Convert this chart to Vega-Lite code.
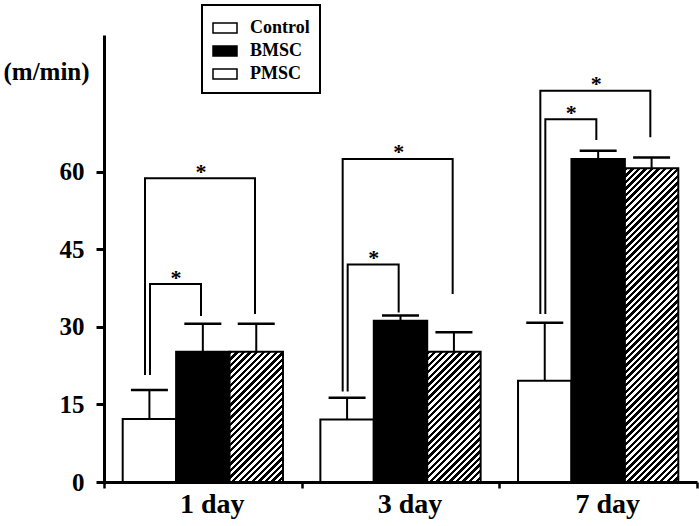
{
"$schema": "https://vega.github.io/schema/vega-lite/v6.json",
"width": 593, "height": 447,
"autosize": "none",
"padding": {"left": 104, "top": 35, "right": 2, "bottom": 44},
"background": "white",
"config": {
  "view": {"stroke": null},
  "font": "Liberation Serif",
  "axisY": {"domainColor": "black", "domainWidth": 3, "tickColor": "black", "tickWidth": 3, "tickSize": 8, "labelFont": "Liberation Serif", "labelFontSize": 25, "labelFontWeight": "bold", "labelColor": "black", "labelPadding": 12, "grid": false, "titleAngle": 0, "titleAlign": "left", "titleBaseline": "alphabetic", "titleX": -101, "titleY": 44, "titleFont": "Liberation Serif", "titleFontSize": 25, "titleFontWeight": "bold", "titleColor": "black"},
  "axisX": {"domainColor": "black", "domainWidth": 3, "tickColor": "black", "tickWidth": 2.5, "tickSize": 6, "tickBand": "extent", "labelFont": "Liberation Serif", "labelFontSize": 28, "labelFontWeight": "bold", "labelAngle": 0, "labelPadding": 2, "labelOffset": 9, "labelColor": "black", "grid": false}
},
"datasets": {
  "bars": [
    {"day": "1 day", "group": "Control", "mean": 12.2, "upper": 17.8},
    {"day": "1 day", "group": "BMSC", "mean": 25.2, "upper": 30.6},
    {"day": "1 day", "group": "PMSC", "mean": 25.2, "upper": 30.6},
    {"day": "3 day", "group": "Control", "mean": 12.1, "upper": 16.3},
    {"day": "3 day", "group": "BMSC", "mean": 31.2, "upper": 32.2},
    {"day": "3 day", "group": "PMSC", "mean": 25.2, "upper": 29.0},
    {"day": "7 day", "group": "Control", "mean": 19.6, "upper": 30.8},
    {"day": "7 day", "group": "BMSC", "mean": 62.5, "upper": 64.1},
    {"day": "7 day", "group": "PMSC", "mean": 60.7, "upper": 62.8}
  ],
  "brackets": [
    {"day": "1 day", "bracket": "wide", "step": 1, "group": "Control", "y": 20.7},
    {"day": "1 day", "bracket": "wide", "step": 2, "group": "Control", "y": 58.8},
    {"day": "1 day", "bracket": "wide", "step": 3, "group": "PMSC", "y": 58.8},
    {"day": "1 day", "bracket": "wide", "step": 4, "group": "PMSC", "y": 32.5},
    {"day": "1 day", "bracket": "narrow", "step": 1, "group": "Control", "y": 20.7},
    {"day": "1 day", "bracket": "narrow", "step": 2, "group": "Control", "y": 38.3},
    {"day": "1 day", "bracket": "narrow", "step": 3, "group": "BMSC", "y": 38.3},
    {"day": "1 day", "bracket": "narrow", "step": 4, "group": "BMSC", "y": 32.1},
    {"day": "3 day", "bracket": "wide", "step": 1, "group": "Control", "y": 17.5},
    {"day": "3 day", "bracket": "wide", "step": 2, "group": "Control", "y": 62.5},
    {"day": "3 day", "bracket": "wide", "step": 3, "group": "PMSC", "y": 62.5},
    {"day": "3 day", "bracket": "wide", "step": 4, "group": "PMSC", "y": 36.4},
    {"day": "3 day", "bracket": "narrow", "step": 1, "group": "Control", "y": 17.5},
    {"day": "3 day", "bracket": "narrow", "step": 2, "group": "Control", "y": 42.1},
    {"day": "3 day", "bracket": "narrow", "step": 3, "group": "BMSC", "y": 42.1},
    {"day": "3 day", "bracket": "narrow", "step": 4, "group": "BMSC", "y": 32.8},
    {"day": "7 day", "bracket": "wide", "step": 1, "group": "Control", "y": 32.5},
    {"day": "7 day", "bracket": "wide", "step": 2, "group": "Control", "y": 75.7},
    {"day": "7 day", "bracket": "wide", "step": 3, "group": "PMSC", "y": 75.7},
    {"day": "7 day", "bracket": "wide", "step": 4, "group": "PMSC", "y": 66.7},
    {"day": "7 day", "bracket": "narrow", "step": 1, "group": "Control", "y": 32.5},
    {"day": "7 day", "bracket": "narrow", "step": 2, "group": "Control", "y": 70.2},
    {"day": "7 day", "bracket": "narrow", "step": 3, "group": "BMSC", "y": 70.2},
    {"day": "7 day", "bracket": "narrow", "step": 4, "group": "BMSC", "y": 66.2}
  ],
  "stars": [
    {"day": "1 day", "bracket": "wide", "y": 61.0},
    {"day": "1 day", "bracket": "narrow", "y": 40.4},
    {"day": "3 day", "bracket": "wide", "y": 64.9},
    {"day": "3 day", "bracket": "narrow", "y": 44.3},
    {"day": "7 day", "bracket": "wide", "y": 78.0},
    {"day": "7 day", "bracket": "narrow", "y": 72.4}
  ]
},
"resolve": {"scale": {"xOffset": "independent"}},
"layer": [
  {
    "data": {"name": "bars"},
    "mark": {"type": "bar", "stroke": "black", "strokeWidth": 2},
    "encoding": {
      "x": {"field": "day", "type": "nominal", "scale": {"domain": ["1 day", "3 day", "7 day"], "paddingInner": 0, "paddingOuter": 0}, "axis": {"title": null}},
      "xOffset": {"field": "group", "type": "nominal", "scale": {"domain": ["Control", "BMSC", "PMSC"], "paddingInner": 0, "paddingOuter": 0.35}},
      "y": {"field": "mean", "type": "quantitative", "scale": {"domain": [0, 86.5], "nice": false, "zero": true}, "axis": {"title": "(m/min)", "values": [0, 15, 30, 45, 60]}},
      "fill": {
        "field": "group", "type": "nominal",
        "scale": {"domain": ["Control", "BMSC", "PMSC"], "range": ["white", "black", "white"]},
        "legend": {
          "orient": "none", "legendX": 98, "legendY": -30, "title": null,
          "symbolType": "M-1,-0.42H1V0.42H-1Z", "symbolSize": 576,
          "symbolStrokeColor": "black", "symbolStrokeWidth": 1.5, "symbolOpacity": 1,
          "labelFont": "Liberation Serif", "labelFontSize": 18, "labelFontWeight": "bold", "labelColor": "black",
          "labelOffset": 12, "padding": 10, "rowPadding": 1, "strokeColor": "black",
          "encode": {
            "symbols": {"update": {
              "stroke": {"value": "black"},
              "strokeWidth": {"value": 1.5},
              "opacity": {"value": 1}
            }},
            "legend": {"update": {"strokeWidth": {"value": 2}}}
          }
        },
        "condition": [
          {"test": "datum.group === 'PMSC' && datum.day === '7 day'", "value": {"gradient": "linear", "x1": 0, "y1": 0, "x2": 0.1937, "y2": 1.1373, "stops": [
{"offset":0.0089,"color":"#000"},{"offset":0.0089,"color":"#fff"},
{"offset":0.0179,"color":"#fff"},{"offset":0.0179,"color":"#000"},
{"offset":0.0268,"color":"#000"},{"offset":0.0268,"color":"#fff"},
{"offset":0.0357,"color":"#fff"},{"offset":0.0357,"color":"#000"},
{"offset":0.0446,"color":"#000"},{"offset":0.0446,"color":"#fff"},
{"offset":0.0536,"color":"#fff"},{"offset":0.0536,"color":"#000"},
{"offset":0.0625,"color":"#000"},{"offset":0.0625,"color":"#fff"},
{"offset":0.0714,"color":"#fff"},{"offset":0.0714,"color":"#000"},
{"offset":0.0804,"color":"#000"},{"offset":0.0804,"color":"#fff"},
{"offset":0.0893,"color":"#fff"},{"offset":0.0893,"color":"#000"},
{"offset":0.0982,"color":"#000"},{"offset":0.0982,"color":"#fff"},
{"offset":0.1071,"color":"#fff"},{"offset":0.1071,"color":"#000"},
{"offset":0.1161,"color":"#000"},{"offset":0.1161,"color":"#fff"},
{"offset":0.125,"color":"#fff"},{"offset":0.125,"color":"#000"},
{"offset":0.1339,"color":"#000"},{"offset":0.1339,"color":"#fff"},
{"offset":0.1429,"color":"#fff"},{"offset":0.1429,"color":"#000"},
{"offset":0.1518,"color":"#000"},{"offset":0.1518,"color":"#fff"},
{"offset":0.1607,"color":"#fff"},{"offset":0.1607,"color":"#000"},
{"offset":0.1696,"color":"#000"},{"offset":0.1696,"color":"#fff"},
{"offset":0.1786,"color":"#fff"},{"offset":0.1786,"color":"#000"},
{"offset":0.1875,"color":"#000"},{"offset":0.1875,"color":"#fff"},
{"offset":0.1964,"color":"#fff"},{"offset":0.1964,"color":"#000"},
{"offset":0.2054,"color":"#000"},{"offset":0.2054,"color":"#fff"},
{"offset":0.2143,"color":"#fff"},{"offset":0.2143,"color":"#000"},
{"offset":0.2232,"color":"#000"},{"offset":0.2232,"color":"#fff"},
{"offset":0.2321,"color":"#fff"},{"offset":0.2321,"color":"#000"},
{"offset":0.2411,"color":"#000"},{"offset":0.2411,"color":"#fff"},
{"offset":0.25,"color":"#fff"},{"offset":0.25,"color":"#000"},
{"offset":0.2589,"color":"#000"},{"offset":0.2589,"color":"#fff"},
{"offset":0.2679,"color":"#fff"},{"offset":0.2679,"color":"#000"},
{"offset":0.2768,"color":"#000"},{"offset":0.2768,"color":"#fff"},
{"offset":0.2857,"color":"#fff"},{"offset":0.2857,"color":"#000"},
{"offset":0.2946,"color":"#000"},{"offset":0.2946,"color":"#fff"},
{"offset":0.3036,"color":"#fff"},{"offset":0.3036,"color":"#000"},
{"offset":0.3125,"color":"#000"},{"offset":0.3125,"color":"#fff"},
{"offset":0.3214,"color":"#fff"},{"offset":0.3214,"color":"#000"},
{"offset":0.3304,"color":"#000"},{"offset":0.3304,"color":"#fff"},
{"offset":0.3393,"color":"#fff"},{"offset":0.3393,"color":"#000"},
{"offset":0.3482,"color":"#000"},{"offset":0.3482,"color":"#fff"},
{"offset":0.3571,"color":"#fff"},{"offset":0.3571,"color":"#000"},
{"offset":0.3661,"color":"#000"},{"offset":0.3661,"color":"#fff"},
{"offset":0.375,"color":"#fff"},{"offset":0.375,"color":"#000"},
{"offset":0.3839,"color":"#000"},{"offset":0.3839,"color":"#fff"},
{"offset":0.3929,"color":"#fff"},{"offset":0.3929,"color":"#000"},
{"offset":0.4018,"color":"#000"},{"offset":0.4018,"color":"#fff"},
{"offset":0.4107,"color":"#fff"},{"offset":0.4107,"color":"#000"},
{"offset":0.4196,"color":"#000"},{"offset":0.4196,"color":"#fff"},
{"offset":0.4286,"color":"#fff"},{"offset":0.4286,"color":"#000"},
{"offset":0.4375,"color":"#000"},{"offset":0.4375,"color":"#fff"},
{"offset":0.4464,"color":"#fff"},{"offset":0.4464,"color":"#000"},
{"offset":0.4554,"color":"#000"},{"offset":0.4554,"color":"#fff"},
{"offset":0.4643,"color":"#fff"},{"offset":0.4643,"color":"#000"},
{"offset":0.4732,"color":"#000"},{"offset":0.4732,"color":"#fff"},
{"offset":0.4821,"color":"#fff"},{"offset":0.4821,"color":"#000"},
{"offset":0.4911,"color":"#000"},{"offset":0.4911,"color":"#fff"},
{"offset":0.5,"color":"#fff"},{"offset":0.5,"color":"#000"},
{"offset":0.5089,"color":"#000"},{"offset":0.5089,"color":"#fff"},
{"offset":0.5179,"color":"#fff"},{"offset":0.5179,"color":"#000"},
{"offset":0.5268,"color":"#000"},{"offset":0.5268,"color":"#fff"},
{"offset":0.5357,"color":"#fff"},{"offset":0.5357,"color":"#000"},
{"offset":0.5446,"color":"#000"},{"offset":0.5446,"color":"#fff"},
{"offset":0.5536,"color":"#fff"},{"offset":0.5536,"color":"#000"},
{"offset":0.5625,"color":"#000"},{"offset":0.5625,"color":"#fff"},
{"offset":0.5714,"color":"#fff"},{"offset":0.5714,"color":"#000"},
{"offset":0.5804,"color":"#000"},{"offset":0.5804,"color":"#fff"},
{"offset":0.5893,"color":"#fff"},{"offset":0.5893,"color":"#000"},
{"offset":0.5982,"color":"#000"},{"offset":0.5982,"color":"#fff"},
{"offset":0.6071,"color":"#fff"},{"offset":0.6071,"color":"#000"},
{"offset":0.6161,"color":"#000"},{"offset":0.6161,"color":"#fff"},
{"offset":0.625,"color":"#fff"},{"offset":0.625,"color":"#000"},
{"offset":0.6339,"color":"#000"},{"offset":0.6339,"color":"#fff"},
{"offset":0.6429,"color":"#fff"},{"offset":0.6429,"color":"#000"},
{"offset":0.6518,"color":"#000"},{"offset":0.6518,"color":"#fff"},
{"offset":0.6607,"color":"#fff"},{"offset":0.6607,"color":"#000"},
{"offset":0.6696,"color":"#000"},{"offset":0.6696,"color":"#fff"},
{"offset":0.6786,"color":"#fff"},{"offset":0.6786,"color":"#000"},
{"offset":0.6875,"color":"#000"},{"offset":0.6875,"color":"#fff"},
{"offset":0.6964,"color":"#fff"},{"offset":0.6964,"color":"#000"},
{"offset":0.7054,"color":"#000"},{"offset":0.7054,"color":"#fff"},
{"offset":0.7143,"color":"#fff"},{"offset":0.7143,"color":"#000"},
{"offset":0.7232,"color":"#000"},{"offset":0.7232,"color":"#fff"},
{"offset":0.7321,"color":"#fff"},{"offset":0.7321,"color":"#000"},
{"offset":0.7411,"color":"#000"},{"offset":0.7411,"color":"#fff"},
{"offset":0.75,"color":"#fff"},{"offset":0.75,"color":"#000"},
{"offset":0.7589,"color":"#000"},{"offset":0.7589,"color":"#fff"},
{"offset":0.7679,"color":"#fff"},{"offset":0.7679,"color":"#000"},
{"offset":0.7768,"color":"#000"},{"offset":0.7768,"color":"#fff"},
{"offset":0.7857,"color":"#fff"},{"offset":0.7857,"color":"#000"},
{"offset":0.7946,"color":"#000"},{"offset":0.7946,"color":"#fff"},
{"offset":0.8036,"color":"#fff"},{"offset":0.8036,"color":"#000"},
{"offset":0.8125,"color":"#000"},{"offset":0.8125,"color":"#fff"},
{"offset":0.8214,"color":"#fff"},{"offset":0.8214,"color":"#000"},
{"offset":0.8304,"color":"#000"},{"offset":0.8304,"color":"#fff"},
{"offset":0.8393,"color":"#fff"},{"offset":0.8393,"color":"#000"},
{"offset":0.8482,"color":"#000"},{"offset":0.8482,"color":"#fff"},
{"offset":0.8571,"color":"#fff"},{"offset":0.8571,"color":"#000"},
{"offset":0.8661,"color":"#000"},{"offset":0.8661,"color":"#fff"},
{"offset":0.875,"color":"#fff"},{"offset":0.875,"color":"#000"},
{"offset":0.8839,"color":"#000"},{"offset":0.8839,"color":"#fff"},
{"offset":0.8929,"color":"#fff"},{"offset":0.8929,"color":"#000"},
{"offset":0.9018,"color":"#000"},{"offset":0.9018,"color":"#fff"},
{"offset":0.9107,"color":"#fff"},{"offset":0.9107,"color":"#000"},
{"offset":0.9196,"color":"#000"},{"offset":0.9196,"color":"#fff"},
{"offset":0.9286,"color":"#fff"},{"offset":0.9286,"color":"#000"},
{"offset":0.9375,"color":"#000"},{"offset":0.9375,"color":"#fff"},
{"offset":0.9464,"color":"#fff"},{"offset":0.9464,"color":"#000"},
{"offset":0.9554,"color":"#000"},{"offset":0.9554,"color":"#fff"},
{"offset":0.9643,"color":"#fff"},{"offset":0.9643,"color":"#000"},
{"offset":0.9732,"color":"#000"},{"offset":0.9732,"color":"#fff"},
{"offset":0.9821,"color":"#fff"},{"offset":0.9821,"color":"#000"},
{"offset":0.9911,"color":"#000"},{"offset":0.9911,"color":"#fff"}
          ]}},
          {"test": "datum.group === 'PMSC'", "value": {"gradient": "linear", "x1": 0, "y1": 0, "x2": 0.4953, "y2": 1.2071, "stops": [
{"offset":0.0179,"color":"#000"},{"offset":0.0179,"color":"#fff"},
{"offset":0.0357,"color":"#fff"},{"offset":0.0357,"color":"#000"},
{"offset":0.0536,"color":"#000"},{"offset":0.0536,"color":"#fff"},
{"offset":0.0714,"color":"#fff"},{"offset":0.0714,"color":"#000"},
{"offset":0.0893,"color":"#000"},{"offset":0.0893,"color":"#fff"},
{"offset":0.1071,"color":"#fff"},{"offset":0.1071,"color":"#000"},
{"offset":0.125,"color":"#000"},{"offset":0.125,"color":"#fff"},
{"offset":0.1429,"color":"#fff"},{"offset":0.1429,"color":"#000"},
{"offset":0.1607,"color":"#000"},{"offset":0.1607,"color":"#fff"},
{"offset":0.1786,"color":"#fff"},{"offset":0.1786,"color":"#000"},
{"offset":0.1964,"color":"#000"},{"offset":0.1964,"color":"#fff"},
{"offset":0.2143,"color":"#fff"},{"offset":0.2143,"color":"#000"},
{"offset":0.2321,"color":"#000"},{"offset":0.2321,"color":"#fff"},
{"offset":0.25,"color":"#fff"},{"offset":0.25,"color":"#000"},
{"offset":0.2679,"color":"#000"},{"offset":0.2679,"color":"#fff"},
{"offset":0.2857,"color":"#fff"},{"offset":0.2857,"color":"#000"},
{"offset":0.3036,"color":"#000"},{"offset":0.3036,"color":"#fff"},
{"offset":0.3214,"color":"#fff"},{"offset":0.3214,"color":"#000"},
{"offset":0.3393,"color":"#000"},{"offset":0.3393,"color":"#fff"},
{"offset":0.3571,"color":"#fff"},{"offset":0.3571,"color":"#000"},
{"offset":0.375,"color":"#000"},{"offset":0.375,"color":"#fff"},
{"offset":0.3929,"color":"#fff"},{"offset":0.3929,"color":"#000"},
{"offset":0.4107,"color":"#000"},{"offset":0.4107,"color":"#fff"},
{"offset":0.4286,"color":"#fff"},{"offset":0.4286,"color":"#000"},
{"offset":0.4464,"color":"#000"},{"offset":0.4464,"color":"#fff"},
{"offset":0.4643,"color":"#fff"},{"offset":0.4643,"color":"#000"},
{"offset":0.4821,"color":"#000"},{"offset":0.4821,"color":"#fff"},
{"offset":0.5,"color":"#fff"},{"offset":0.5,"color":"#000"},
{"offset":0.5179,"color":"#000"},{"offset":0.5179,"color":"#fff"},
{"offset":0.5357,"color":"#fff"},{"offset":0.5357,"color":"#000"},
{"offset":0.5536,"color":"#000"},{"offset":0.5536,"color":"#fff"},
{"offset":0.5714,"color":"#fff"},{"offset":0.5714,"color":"#000"},
{"offset":0.5893,"color":"#000"},{"offset":0.5893,"color":"#fff"},
{"offset":0.6071,"color":"#fff"},{"offset":0.6071,"color":"#000"},
{"offset":0.625,"color":"#000"},{"offset":0.625,"color":"#fff"},
{"offset":0.6429,"color":"#fff"},{"offset":0.6429,"color":"#000"},
{"offset":0.6607,"color":"#000"},{"offset":0.6607,"color":"#fff"},
{"offset":0.6786,"color":"#fff"},{"offset":0.6786,"color":"#000"},
{"offset":0.6964,"color":"#000"},{"offset":0.6964,"color":"#fff"},
{"offset":0.7143,"color":"#fff"},{"offset":0.7143,"color":"#000"},
{"offset":0.7321,"color":"#000"},{"offset":0.7321,"color":"#fff"},
{"offset":0.75,"color":"#fff"},{"offset":0.75,"color":"#000"},
{"offset":0.7679,"color":"#000"},{"offset":0.7679,"color":"#fff"},
{"offset":0.7857,"color":"#fff"},{"offset":0.7857,"color":"#000"},
{"offset":0.8036,"color":"#000"},{"offset":0.8036,"color":"#fff"},
{"offset":0.8214,"color":"#fff"},{"offset":0.8214,"color":"#000"},
{"offset":0.8393,"color":"#000"},{"offset":0.8393,"color":"#fff"},
{"offset":0.8571,"color":"#fff"},{"offset":0.8571,"color":"#000"},
{"offset":0.875,"color":"#000"},{"offset":0.875,"color":"#fff"},
{"offset":0.8929,"color":"#fff"},{"offset":0.8929,"color":"#000"},
{"offset":0.9107,"color":"#000"},{"offset":0.9107,"color":"#fff"},
{"offset":0.9286,"color":"#fff"},{"offset":0.9286,"color":"#000"},
{"offset":0.9464,"color":"#000"},{"offset":0.9464,"color":"#fff"},
{"offset":0.9643,"color":"#fff"},{"offset":0.9643,"color":"#000"},
{"offset":0.9821,"color":"#000"},{"offset":0.9821,"color":"#fff"}
          ]}}
        ]
      }
    }
  },
  {
    "data": {"name": "bars"},
    "mark": {"type": "rule", "color": "black", "strokeWidth": 2},
    "encoding": {
      "x": {"field": "day", "type": "nominal"},
      "xOffset": {"field": "group", "type": "nominal", "scale": {"domain": ["Control", "BMSC", "PMSC"], "paddingInner": 0, "paddingOuter": 0.35}},
      "y": {"field": "mean", "type": "quantitative"},
      "y2": {"field": "upper"}
    }
  },
  {
    "data": {"name": "bars"},
    "mark": {"type": "tick", "color": "black", "size": 37, "thickness": 2.5, "orient": "horizontal", "opacity": 1},
    "encoding": {
      "x": {"field": "day", "type": "nominal"},
      "xOffset": {"field": "group", "type": "nominal", "scale": {"domain": ["Control", "BMSC", "PMSC"], "paddingInner": 0, "paddingOuter": 0.35}},
      "y": {"field": "upper", "type": "quantitative"}
    }
  },
  {
    "data": {"name": "brackets"},
    "transform": [{"filter": "datum.bracket === 'wide'"}],
    "mark": {"type": "line", "color": "black", "strokeWidth": 2},
    "encoding": {
      "x": {"field": "day", "type": "nominal"},
      "xOffset": {"field": "group", "type": "nominal", "scale": {"type": "point", "domain": ["Control", "PMSC"], "range": [41, 151], "padding": 0}},
      "y": {"field": "y", "type": "quantitative"},
      "detail": {"field": "day"},
      "order": {"field": "step"}
    }
  },
  {
    "data": {"name": "brackets"},
    "transform": [{"filter": "datum.bracket === 'narrow'"}],
    "mark": {"type": "line", "color": "black", "strokeWidth": 2},
    "encoding": {
      "x": {"field": "day", "type": "nominal"},
      "xOffset": {"field": "group", "type": "nominal", "scale": {"type": "point", "domain": ["Control", "BMSC"], "range": [46, 97], "padding": 0}},
      "y": {"field": "y", "type": "quantitative"},
      "detail": {"field": "day"},
      "order": {"field": "step"}
    }
  },
  {
    "data": {"name": "stars"},
    "mark": {"type": "text", "text": "*", "font": "Liberation Serif", "fontSize": 22, "fontWeight": "bold", "color": "black", "baseline": "alphabetic", "align": "center", "dy": 12},
    "encoding": {
      "x": {"field": "day", "type": "nominal"},
      "xOffset": {"field": "bracket", "type": "nominal", "scale": {"type": "point", "domain": ["narrow", "wide"], "range": [72, 97], "padding": 0}},
      "y": {"field": "y", "type": "quantitative"}
    }
  }
]
}
